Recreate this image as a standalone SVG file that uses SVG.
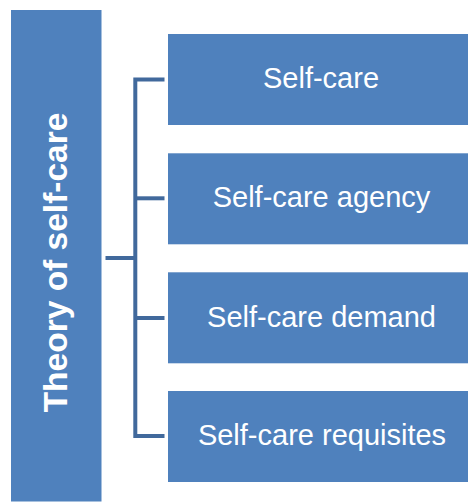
<svg xmlns="http://www.w3.org/2000/svg" width="468" height="502" viewBox="0 0 468 502">
<style>
.box{fill:#4F81BD;}
.lbl{font-family:"Liberation Sans",Arial,sans-serif;font-size:29px;fill:#fff;text-anchor:middle;}
.title{font-family:"Liberation Sans",Arial,sans-serif;font-size:33.5px;font-weight:bold;fill:#fff;text-anchor:middle;}
.conn{fill:none;stroke:#41699C;stroke-width:4;}
</style>
<rect width="468" height="502" fill="#fff"/>
<g id="connectors">
<path class="conn" d="M105.5 258H135.3"/>
<path class="conn" d="M164.5 79.5H135.3V436H164.5"/>
<path class="conn" d="M135.3 198.3H164.5"/>
<path class="conn" d="M135.3 318H164.5"/>
</g>
<g id="theory">
<rect class="box" x="11" y="10" width="90.5" height="491.5"/>
<text class="title" transform="translate(67,262.5) rotate(-90)">Theory of self-care</text>
</g>
<g id="self-care">
<rect class="box" x="168" y="34" width="300" height="91"/>
<text class="lbl" x="321" y="88">Self-care</text>
</g>
<g id="self-care-agency">
<rect class="box" x="168" y="153.3" width="300" height="91"/>
<text class="lbl" x="321.5" y="207">Self-care agency</text>
</g>
<g id="self-care-demand">
<rect class="box" x="168" y="272.3" width="300" height="91"/>
<text class="lbl" x="321.5" y="326.5">Self-care demand</text>
</g>
<g id="self-care-requisites">
<rect class="box" x="168" y="391" width="300" height="91"/>
<text class="lbl" x="322" y="445">Self-care requisites</text>
</g>
</svg>
